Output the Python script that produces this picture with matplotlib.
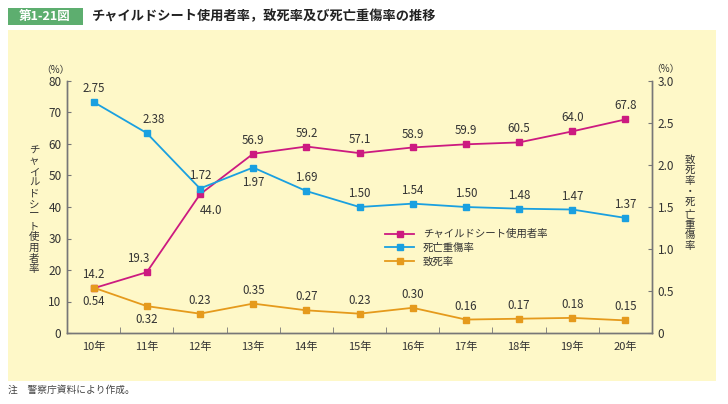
import matplotlib
matplotlib.use("Agg")
import matplotlib.pyplot as plt
from matplotlib.patches import Rectangle

plt.rcParams['font.family'] = ['Noto Sans CJK JP', 'DejaVu Sans']

years = ['10年', '11年', '12年', '13年', '14年', '15年', '16年', '17年', '18年', '19年', '20年']
child_seat = [14.2, 19.3, 44.0, 56.9, 59.2, 57.1, 58.9, 59.9, 60.5, 64.0, 67.8]
severe = [2.75, 2.38, 1.72, 1.97, 1.69, 1.50, 1.54, 1.50, 1.48, 1.47, 1.37]
fatal = [0.54, 0.32, 0.23, 0.35, 0.27, 0.23, 0.30, 0.16, 0.17, 0.18, 0.15]
left_ticks = [0, 10, 20, 30, 40, 50, 60, 70, 80]
right_ticks = [0, 0.5, 1.0, 1.5, 2.0, 2.5, 3.0]
right_ticklabels = ['0', '0.5', '1.0', '1.5', '2.0', '2.5', '3.0']

c_child = '#CC1A80'
c_severe = '#1AA0E0'
c_fatal = '#E59A1C'
axis_col = '#777777'
txt_col = '#333333'
bg = '#FEF8C8'

fig = plt.figure(figsize=(7.28, 4.04), dpi=100)
fig.patches.append(Rectangle((8 / 728, 1 - 381 / 404), 708 / 728, 351 / 404,
                             transform=fig.transFigure, facecolor=bg, edgecolor='none', zorder=-5))
fig.patches.append(Rectangle((8 / 728, 1 - 25 / 404), 75 / 728, 17 / 404,
                             transform=fig.transFigure, facecolor='#5DAE6F', edgecolor='none', zorder=-5))
fig.text(45 / 728, 1 - 16.5 / 404, '第1-21図', color='white', fontsize=9, fontweight='bold',
         ha='center', va='center')
fig.text(92 / 728, 1 - 16.5 / 404, 'チャイルドシート使用者率，致死率及び死亡重傷率の推移',
         color='#222222', fontsize=9.5, fontweight='bold', ha='left', va='center')
fig.text(8 / 728, 1 - 390 / 404, '注　警察庁資料により作成。', color='#444444', fontsize=7,
         ha='left', va='center')

ax = fig.add_axes([67 / 728, 1 - 333 / 404, 585 / 728, 252 / 404])
ax.set_facecolor('none')
ax2 = ax.twinx()
ax2.set_facecolor('none')
x = list(range(len(years)))

l1, = ax.plot(x, child_seat, color=c_child, marker='s', markersize=4, lw=1.3,
              label='チャイルドシート使用者率')
l2, = ax2.plot(x, severe, color=c_severe, marker='s', markersize=4, lw=1.3, label='死亡重傷率')
l3, = ax2.plot(x, fatal, color=c_fatal, marker='s', markersize=4, lw=1.3, label='致死率')

ax.set_xlim(-0.5, len(years) - 0.5)
ax.set_ylim(0, 80)
ax2.set_ylim(0, 3)
ax.set_yticks(left_ticks)
ax2.set_yticks(right_ticks)
ax2.set_yticklabels(right_ticklabels)
ax.set_xticks(x)
ax.set_xticklabels(years)
ax.set_xticks([i + 0.5 for i in range(len(years) - 1)], minor=True)

for a in (ax, ax2):
    a.spines['top'].set_visible(False)
    for s in ('left', 'right', 'bottom'):
        a.spines[s].set_color(axis_col)
        a.spines[s].set_linewidth(1.0)
    a.tick_params(colors=axis_col, labelcolor=txt_col, labelsize=8.5, direction='in', length=3)
ax.tick_params(axis='x', which='major', length=0, pad=6, labelsize=8)
ax.tick_params(axis='x', which='minor', direction='in', length=4, color=axis_col)
ax.tick_params(axis='y', pad=4)
ax2.tick_params(axis='y', pad=4)

fs = 8.3
for i, v in enumerate(child_seat):
    if i == 2:
        ax.annotate(f'{v:.1f}', (i, v), xytext=(8, -7), textcoords='offset points',
                    ha='center', va='top', fontsize=fs, color=txt_col)
    elif i == 1:
        ax.annotate(f'{v:.1f}', (i, v), xytext=(-6, 5), textcoords='offset points',
                    ha='center', va='bottom', fontsize=fs, color=txt_col)
    else:
        ax.annotate(f'{v:.1f}', (i, v), xytext=(0, 5), textcoords='offset points',
                    ha='center', va='bottom', fontsize=fs, color=txt_col)
for i, v in enumerate(severe):
    if i == 3:
        ax2.annotate(f'{v:.2f}', (i, v), xytext=(0, -6), textcoords='offset points',
                     ha='center', va='top', fontsize=fs, color=txt_col)
    elif i == 1:
        ax2.annotate(f'{v:.2f}', (i, v), xytext=(5, 5), textcoords='offset points',
                     ha='center', va='bottom', fontsize=fs, color=txt_col)
    else:
        ax2.annotate(f'{v:.2f}', (i, v), xytext=(0, 5), textcoords='offset points',
                     ha='center', va='bottom', fontsize=fs, color=txt_col)
for i, v in enumerate(fatal):
    if i in (0, 1):
        ax2.annotate(f'{v:.2f}', (i, v), xytext=(0, -5), textcoords='offset points',
                     ha='center', va='top', fontsize=fs, color=txt_col)
    else:
        ax2.annotate(f'{v:.2f}', (i, v), xytext=(0, 5), textcoords='offset points',
                     ha='center', va='bottom', fontsize=fs, color=txt_col)

leg = ax2.legend(handles=[l1, l2, l3], loc='upper left', bbox_to_anchor=(0.528, 0.45),
                 frameon=False, fontsize=7.5, handlelength=2.8, labelspacing=0.35)
for t in leg.get_texts():
    t.set_color(txt_col)

fig.text(55 / 728, 1 - 70 / 404, '（%）', fontsize=7, color=txt_col, ha='center', va='center')
fig.text(665 / 728, 1 - 69 / 404, '（%）', fontsize=7, color=txt_col, ha='center', va='center')
fig.text(34 / 728, 1 - 210 / 404, '\n'.join('チャイルドシート使用者率'), fontsize=7.5,
         color=txt_col, ha='center', va='center', linespacing=1.1)
fig.text(690 / 728, 1 - 203 / 404, '\n'.join('致死率・死亡重傷率'), fontsize=7.5,
         color=txt_col, ha='center', va='center', linespacing=1.1)

fig.savefig('out.png', dpi=100)
